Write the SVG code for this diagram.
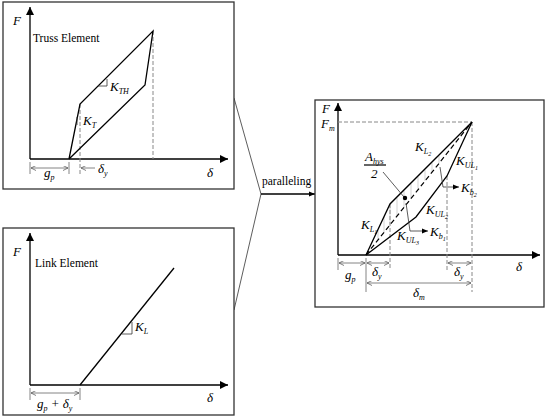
<svg xmlns="http://www.w3.org/2000/svg" width="550" height="419" viewBox="0 0 550 419">
<defs>
<marker id="ah" viewBox="0 0 10 10" refX="10" refY="5" markerWidth="10" markerHeight="8" markerUnits="userSpaceOnUse" orient="auto"><path d="M0,0 L10,5 L0,10 z" fill="#000"/></marker>
<marker id="sa" viewBox="0 0 10 10" refX="10" refY="5" markerWidth="7" markerHeight="6" markerUnits="userSpaceOnUse" orient="auto"><path d="M0,1 L10,5 L0,9 z" fill="#000"/></marker>
<marker id="dim" viewBox="0 0 10 10" refX="10" refY="5" markerWidth="5" markerHeight="5" markerUnits="userSpaceOnUse" orient="auto-start-reverse"><path d="M0,0 L10,5 L0,10" fill="none" stroke="#555" stroke-width="1.5"/></marker>
</defs>
<style>
.box{fill:#fff;stroke:#333;stroke-width:1.3}
.ax{stroke:#000;stroke-width:1.3;fill:none}
.cv{stroke:#000;stroke-width:1.3;fill:none;stroke-linejoin:miter}
.dsh{stroke:#888;stroke-width:1;stroke-dasharray:4,2;fill:none}
.dd{stroke:#000;stroke-width:1.2;stroke-dasharray:5,3;fill:none}
.dm{stroke:#666;stroke-width:0.8;fill:none}
.hat{stroke:#c8c8c8;stroke-width:0.8}
.thin{stroke:#333;stroke-width:0.8;fill:none}
text{font-family:"Liberation Serif","Times New Roman","DejaVu Serif",serif}
.t{font-size:11.5px;fill:#000}
.m{font-style:italic;font-size:13px;fill:#000}
.s{font-size:8px}
.ss{font-size:6px}
</style>

<g id="connectors">
<polyline class="thin" points="234,98 261,194 234,310" stroke-width="1.1"/>
<line class="ax" x1="261" y1="194" x2="315" y2="194" marker-end="url(#sa)" stroke-width="1.1"/>
<text class="t" x="262" y="185" font-family="Liberation Serif, serif">paralleling</text>
</g>

<g id="truss" font-family="Liberation Serif, serif">
<rect class="box" x="3" y="2" width="231" height="187"/>
<line class="ax" x1="30" y1="159" x2="30" y2="7" marker-end="url(#ah)"/>
<line class="ax" x1="30" y1="159" x2="228" y2="159" marker-end="url(#ah)"/>
<text class="m" x="13" y="25">F</text>
<text class="m" x="207" y="177">δ</text>
<text class="t" x="33" y="42">Truss Element</text>
<line class="dsh" x1="80" y1="104" x2="80" y2="174"/>
<line class="dsh" x1="153" y1="31" x2="153" y2="159"/>
<polyline class="cv" points="69,159 80,104 153,31 145,85 69,159"/>
<polyline class="thin" points="98,86 107,86 107,79"/>
<text class="m" x="110" y="91">K<tspan class="s" dy="3">TH</tspan></text>
<line class="thin" x1="77" y1="117" x2="77" y2="125"/>
<text class="m" x="83" y="125">K<tspan class="s" dy="3">T</tspan></text>
<line class="dm" x1="30" y1="162" x2="30" y2="174"/>
<line class="dm" x1="69" y1="162" x2="69" y2="174"/>
<line class="dm" x1="31" y1="168" x2="68" y2="168" marker-start="url(#dim)" marker-end="url(#dim)"/>
<line class="dm" x1="95" y1="168" x2="81" y2="168" marker-end="url(#dim)"/>
<text class="m" x="44" y="177">g<tspan class="s" dy="3">p</tspan></text>
<text class="m" x="98" y="173">δ<tspan class="s" dy="3">y</tspan></text>
</g>

<g id="link" font-family="Liberation Serif, serif">
<rect class="box" x="3" y="228" width="231" height="187"/>
<line class="ax" x1="30" y1="385" x2="30" y2="233" marker-end="url(#ah)"/>
<line class="ax" x1="30" y1="385" x2="228" y2="385" marker-end="url(#ah)"/>
<text class="m" x="13" y="256">F</text>
<text class="m" x="207" y="402">δ</text>
<text class="t" x="35" y="267">Link Element</text>
<line class="cv" x1="80" y1="385" x2="174" y2="268"/>
<polyline class="thin" points="122,334 132,334 132,322"/>
<text class="m" x="135" y="331">K<tspan class="s" dy="3">L</tspan></text>
<line class="dm" x1="30" y1="388" x2="30" y2="400"/>
<line class="dm" x1="80" y1="388" x2="80" y2="400"/>
<line class="dm" x1="31" y1="393" x2="79" y2="393" marker-start="url(#dim)" marker-end="url(#dim)"/>
<text class="m" x="37" y="408">g<tspan class="s" dy="3">p</tspan><tspan dy="-3"> + δ</tspan><tspan class="s" dy="3">y</tspan></text>
</g>

<g id="combined" font-family="Liberation Serif, serif">
<rect class="box" x="315" y="100" width="229" height="207"/>
<g class="hat">
<line x1="378" y1="230" x2="378" y2="240"/>
<line x1="384" y1="217" x2="384" y2="232"/>
<line x1="390" y1="205" x2="390" y2="225"/>
<line x1="397" y1="198" x2="397" y2="216"/>
<line x1="404" y1="191" x2="404" y2="207"/>
<line x1="411" y1="184" x2="411" y2="198"/>
<line x1="418" y1="177" x2="418" y2="190"/>
<line x1="425" y1="170" x2="425" y2="181"/>
<line x1="432" y1="163" x2="432" y2="172"/>
<line x1="439" y1="156" x2="439" y2="163"/>
</g>
<line class="ax" x1="338" y1="255" x2="338" y2="103" marker-end="url(#ah)"/>
<line class="ax" x1="338" y1="255" x2="540" y2="255" marker-end="url(#ah)"/>
<text class="m" x="322" y="113">F</text>
<text class="m" x="321" y="128">F<tspan class="s" dy="3">m</tspan></text>
<text class="m" x="516" y="271">δ</text>
<line class="dsh" x1="338" y1="122" x2="472" y2="122"/>
<line class="dsh" x1="390" y1="204" x2="390" y2="270"/>
<line class="dsh" x1="447" y1="176" x2="447" y2="270"/>
<line class="dsh" x1="472" y1="122" x2="472" y2="292"/>
<line class="dd" x1="366" y1="255" x2="472" y2="122"/>
<polyline class="cv" points="366,255 390,204 472,122 447,176 416,217 366,255"/>
<text class="m" x="365" y="161">A<tspan class="s" dy="3">hys</tspan></text>
<line x1="364" y1="165" x2="386" y2="165" stroke="#000" stroke-width="1.2"/>
<text class="m" x="371" y="178" font-style="normal">2</text>
<line class="thin" x1="383" y1="172" x2="404" y2="197"/>
<circle cx="405" cy="198" r="2.2" fill="#000"/>
<polyline class="thin" points="406,203 410,231 428,231" marker-end="url(#sa)"/>
<text class="m" x="430" y="236">K<tspan class="s" dy="3">b<tspan class="ss" dy="2">1</tspan></tspan></text>
<polyline class="thin" points="440,167 443,187 459,187" marker-end="url(#sa)"/>
<text class="m" x="461" y="192">K<tspan class="s" dy="3">b<tspan class="ss" dy="2">2</tspan></tspan></text>
<text class="m" x="415" y="151">K<tspan class="s" dy="3">L<tspan class="ss" dy="2">2</tspan></tspan></text>
<text class="m" x="456" y="165">K<tspan class="s" dy="3">UL<tspan class="ss" dy="2">1</tspan></tspan></text>
<text class="m" x="426" y="214">K<tspan class="s" dy="3">UL<tspan class="ss" dy="2">2</tspan></tspan></text>
<text class="m" x="397" y="240">K<tspan class="s" dy="3">UL<tspan class="ss" dy="2">3</tspan></tspan></text>
<text class="m" x="361" y="229">K<tspan class="s" dy="3">L<tspan class="ss" dy="2">1</tspan></tspan></text>
<line class="dm" x1="338" y1="258" x2="338" y2="270"/>
<line class="dm" x1="366" y1="258" x2="366" y2="292"/>
<line class="dm" x1="339" y1="263" x2="365" y2="263" marker-start="url(#dim)" marker-end="url(#dim)"/>
<line class="dm" x1="367" y1="263" x2="389" y2="263" marker-start="url(#dim)" marker-end="url(#dim)"/>
<line class="dm" x1="448" y1="263" x2="471" y2="263" marker-start="url(#dim)" marker-end="url(#dim)"/>
<line class="dm" x1="367" y1="283" x2="471" y2="283" marker-start="url(#dim)" marker-end="url(#dim)"/>
<text class="m" x="345" y="279">g<tspan class="s" dy="3">p</tspan></text>
<text class="m" x="372" y="276">δ<tspan class="s" dy="3">y</tspan></text>
<text class="m" x="454" y="276">δ<tspan class="s" dy="3">y</tspan></text>
<text class="m" x="413" y="297">δ<tspan class="s" dy="3">m</tspan></text>
</g>
</svg>
